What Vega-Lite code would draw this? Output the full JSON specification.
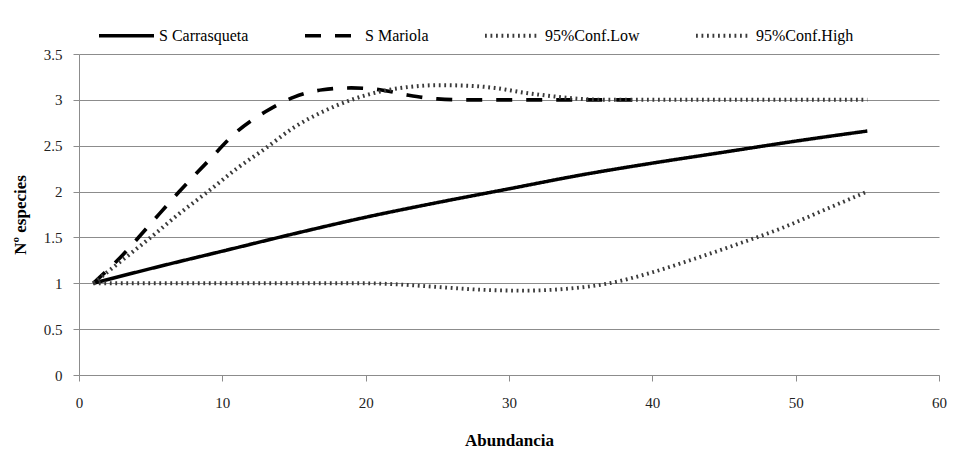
{
  "$schema": "https://vega.github.io/schema/vega-lite/v6.json",
  "width": 860,
  "height": 321,
  "autosize": "none",
  "padding": {"left": 79, "top": 54, "right": 22, "bottom": 80},
  "background": "white",
  "config": {
    "view": {"stroke": null},
    "font": "Liberation Serif",
    "axis": {"labelFont": "Liberation Serif", "titleFont": "Liberation Serif", "labelColor": "#222", "titleColor": "black"},
    "legend": {"labelFont": "Liberation Serif"}
  },
  "data": {
    "values": [
      {"serie": "S Carrasqueta", "x": 1, "y": 1.0},
      {"serie": "S Carrasqueta", "x": 5, "y": 1.16},
      {"serie": "S Carrasqueta", "x": 10, "y": 1.35},
      {"serie": "S Carrasqueta", "x": 15, "y": 1.54},
      {"serie": "S Carrasqueta", "x": 20, "y": 1.72},
      {"serie": "S Carrasqueta", "x": 25, "y": 1.88},
      {"serie": "S Carrasqueta", "x": 30, "y": 2.03},
      {"serie": "S Carrasqueta", "x": 35, "y": 2.18},
      {"serie": "S Carrasqueta", "x": 40, "y": 2.31},
      {"serie": "S Carrasqueta", "x": 45, "y": 2.43},
      {"serie": "S Carrasqueta", "x": 50, "y": 2.55},
      {"serie": "S Carrasqueta", "x": 55, "y": 2.66},
      {"serie": "S Mariola", "x": 1, "y": 1.0},
      {"serie": "S Mariola", "x": 3, "y": 1.3},
      {"serie": "S Mariola", "x": 5, "y": 1.65},
      {"serie": "S Mariola", "x": 7, "y": 2.0},
      {"serie": "S Mariola", "x": 9, "y": 2.33},
      {"serie": "S Mariola", "x": 11, "y": 2.65},
      {"serie": "S Mariola", "x": 13, "y": 2.87},
      {"serie": "S Mariola", "x": 15, "y": 3.03},
      {"serie": "S Mariola", "x": 17, "y": 3.11},
      {"serie": "S Mariola", "x": 19, "y": 3.13},
      {"serie": "S Mariola", "x": 21, "y": 3.11},
      {"serie": "S Mariola", "x": 23, "y": 3.05},
      {"serie": "S Mariola", "x": 25, "y": 3.01},
      {"serie": "S Mariola", "x": 27, "y": 3.0},
      {"serie": "S Mariola", "x": 30, "y": 3.0},
      {"serie": "S Mariola", "x": 35, "y": 3.0},
      {"serie": "S Mariola", "x": 39, "y": 3.0},
      {"serie": "95%Conf.Low", "x": 1, "y": 1.0},
      {"serie": "95%Conf.Low", "x": 5, "y": 1.0},
      {"serie": "95%Conf.Low", "x": 10, "y": 1.0},
      {"serie": "95%Conf.Low", "x": 15, "y": 1.0},
      {"serie": "95%Conf.Low", "x": 20, "y": 1.0},
      {"serie": "95%Conf.Low", "x": 22, "y": 0.99},
      {"serie": "95%Conf.Low", "x": 25, "y": 0.96},
      {"serie": "95%Conf.Low", "x": 28, "y": 0.93},
      {"serie": "95%Conf.Low", "x": 31, "y": 0.92},
      {"serie": "95%Conf.Low", "x": 34, "y": 0.94},
      {"serie": "95%Conf.Low", "x": 37, "y": 1.0},
      {"serie": "95%Conf.Low", "x": 40, "y": 1.12},
      {"serie": "95%Conf.Low", "x": 43, "y": 1.27},
      {"serie": "95%Conf.Low", "x": 46, "y": 1.43},
      {"serie": "95%Conf.Low", "x": 49, "y": 1.6},
      {"serie": "95%Conf.Low", "x": 52, "y": 1.8},
      {"serie": "95%Conf.Low", "x": 55, "y": 2.0},
      {"serie": "95%Conf.High", "x": 1, "y": 1.0},
      {"serie": "95%Conf.High", "x": 3, "y": 1.25},
      {"serie": "95%Conf.High", "x": 5, "y": 1.5},
      {"serie": "95%Conf.High", "x": 7, "y": 1.76},
      {"serie": "95%Conf.High", "x": 9, "y": 2.0},
      {"serie": "95%Conf.High", "x": 11, "y": 2.25},
      {"serie": "95%Conf.High", "x": 13, "y": 2.47},
      {"serie": "95%Conf.High", "x": 15, "y": 2.7},
      {"serie": "95%Conf.High", "x": 17, "y": 2.87},
      {"serie": "95%Conf.High", "x": 19, "y": 3.0},
      {"serie": "95%Conf.High", "x": 21, "y": 3.09},
      {"serie": "95%Conf.High", "x": 23, "y": 3.14},
      {"serie": "95%Conf.High", "x": 25, "y": 3.16},
      {"serie": "95%Conf.High", "x": 27, "y": 3.155},
      {"serie": "95%Conf.High", "x": 29, "y": 3.13},
      {"serie": "95%Conf.High", "x": 31, "y": 3.08},
      {"serie": "95%Conf.High", "x": 33, "y": 3.04},
      {"serie": "95%Conf.High", "x": 35, "y": 3.01},
      {"serie": "95%Conf.High", "x": 37, "y": 3.0},
      {"serie": "95%Conf.High", "x": 40, "y": 3.0},
      {"serie": "95%Conf.High", "x": 45, "y": 3.0},
      {"serie": "95%Conf.High", "x": 50, "y": 3.0},
      {"serie": "95%Conf.High", "x": 55, "y": 3.0}
    ]
  },
  "mark": {"type": "line", "interpolate": "monotone", "strokeCap": "butt"},
  "encoding": {
    "x": {
      "field": "x", "type": "quantitative",
      "scale": {"domain": [0, 60], "nice": false, "zero": true},
      "axis": {
        "title": "Abundancia", "titleFontSize": 17, "titleFontWeight": "bold", "titlePadding": 22,
        "values": [0, 10, 20, 30, 40, 50, 60], "labelFont": "Liberation Serif", "labelFontSize": 15, "labelPadding": 14,
        "grid": false, "domainColor": "#8c8c8c", "tickColor": "#8c8c8c", "tickSize": 6, "labelFlush": false
      }
    },
    "y": {
      "field": "y", "type": "quantitative",
      "scale": {"domain": [0, 3.5], "nice": false},
      "axis": {
        "title": "Nº especies", "titleFontSize": 17, "titleFontWeight": "bold", "titlePadding": 14,
        "values": [0, 0.5, 1, 1.5, 2, 2.5, 3, 3.5], "format": "~g", "labelFont": "Liberation Serif", "labelFontSize": 15, "labelPadding": 11,
        "grid": true, "gridColor": "#8c8c8c", "gridWidth": 1, "domainColor": "#8c8c8c", "tickColor": "#8c8c8c", "tickSize": 6
      }
    },
    "color": {
      "field": "serie", "type": "nominal",
      "scale": {"domain": ["S Carrasqueta", "S Mariola", "95%Conf.Low", "95%Conf.High"], "range": ["#000000", "#000000", "#3a3a3a", "#3a3a3a"]},
      "legend": {
        "title": null, "orient": "none", "legendX": 18, "legendY": -48, "direction": "horizontal",
        "symbolType": "stroke", "symbolSize": 3025, "labelFontSize": 16, "labelOffset": 3, "columnPadding": 48,
        "labelColor": "black"
      }
    },
    "strokeDash": {
      "field": "serie", "type": "nominal",
      "scale": {"domain": ["S Carrasqueta", "S Mariola", "95%Conf.Low", "95%Conf.High"], "range": [[1, 0], [16, 14], [1.8, 3.7], [1.8, 3.7]]},
      "legend": {
        "title": null, "orient": "none", "legendX": 18, "legendY": -48, "direction": "horizontal",
        "symbolType": "stroke", "symbolSize": 3025, "labelFontSize": 16, "labelOffset": 3, "columnPadding": 48,
        "labelColor": "black"
      }
    },
    "strokeWidth": {
      "field": "serie", "type": "nominal",
      "scale": {"domain": ["S Carrasqueta", "S Mariola", "95%Conf.Low", "95%Conf.High"], "range": [3.5, 4, 1.8, 1.8]},
      "legend": {
        "title": null, "orient": "none", "legendX": 18, "legendY": -48, "direction": "horizontal",
        "symbolType": "stroke", "symbolSize": 3025, "labelFontSize": 16, "labelOffset": 3, "columnPadding": 48,
        "labelColor": "black"
      }
    }
  }
}
